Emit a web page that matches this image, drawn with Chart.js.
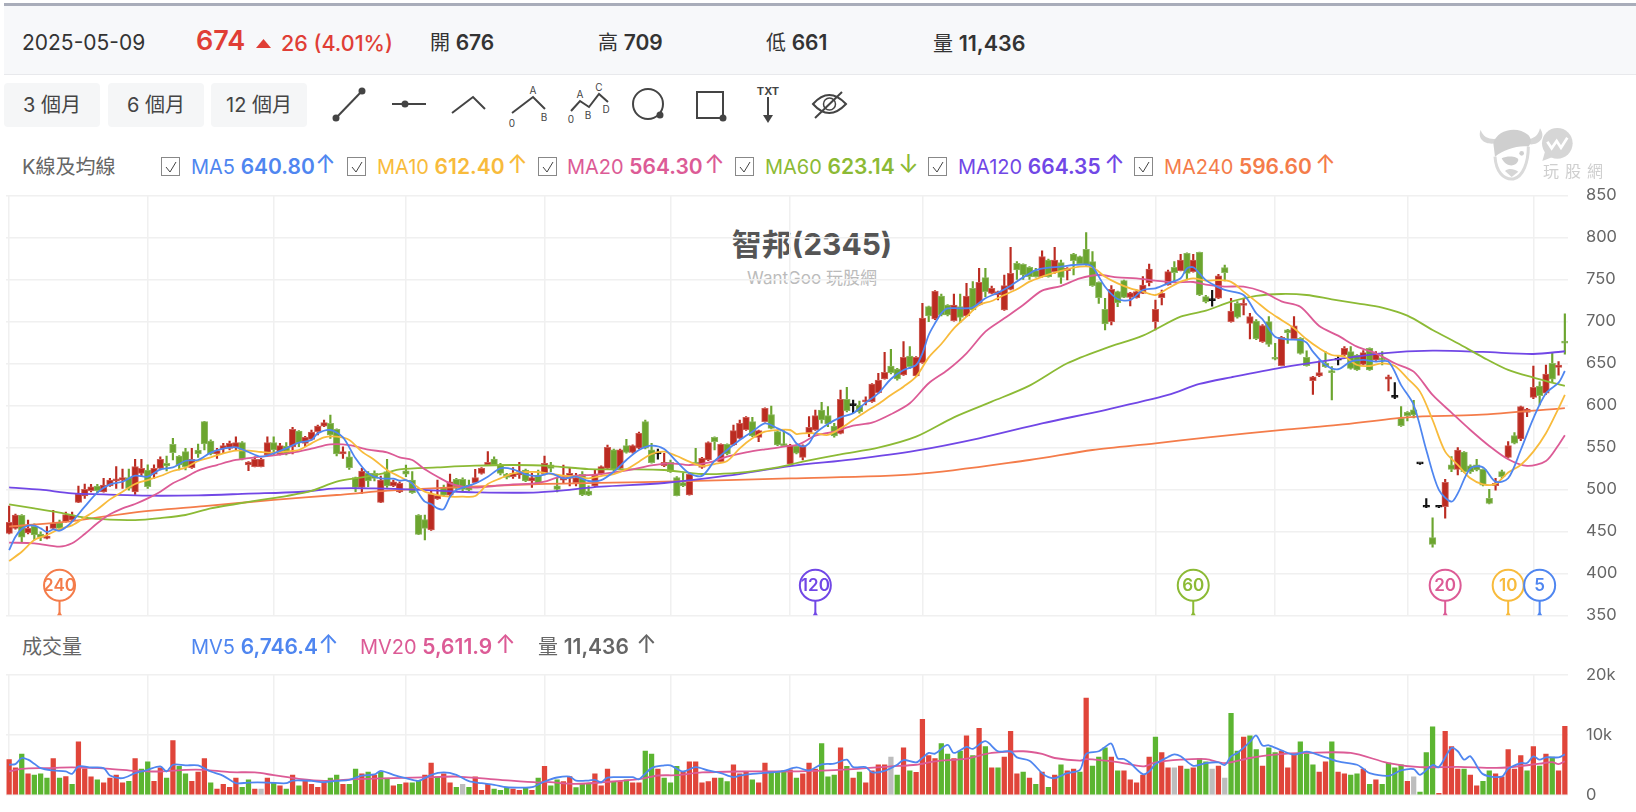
<!DOCTYPE html>
<html lang="zh-Hant">
<head>
<meta charset="utf-8">
<title>智邦(2345)</title>
<script src="https://cdn.jsdelivr.net/npm/chart.js@4/dist/chart.umd.js"></script>
<style>
  html, body { margin: 0; padding: 0; background: #fff; }
  body { width: 1636px; height: 812px; position: relative; overflow: hidden;
         font-family: Inter, "Noto Sans CJK TC", sans-serif; color: #333; }
  canvas { position: absolute; left: 0; }
  #priceChart { top: 180px; }
  #volumeChart { top: 660px; }
  .topline { position: absolute; left: 4px; right: 0; top: 3px; height: 3px; background: #a9adba; }
  .quote { position: absolute; left: 4px; right: 0; top: 6px; height: 68px; background: #f7f8fa; border-bottom: 1px solid #e8e9ec; }
  .t { position: absolute; line-height: 30px; height: 30px; white-space: nowrap; font-size: 20px; }
  .b { font-weight: 600; font-size: 21px; }
  .a { font-size: 25px; font-weight: 400; }
  .btn { position: absolute; top: 83px; height: 44px; line-height: 44px; text-align: center; background: #f5f6f7;
         border-radius: 4px; font-size: 20px; color: #444; }
  .box { position: absolute; top: 157px; width: 19px; height: 19px; border: 1px solid #888; box-sizing: border-box; background: #fff; }
  .box svg { position: absolute; left: 2px; top: 2px; }
  .blue { color: #4f86f0; } .yellow { color: #f8bb3c; } .pink { color: #dc5b96; }
  .green { color: #8cba35; } .purple { color: #7147e6; } .orange { color: #f47c4a; } .grey { color: #666; }
  .title { position: absolute; left: 612px; width: 400px; text-align: center; white-space: nowrap; }
  svg.tools, svg.logo { position: absolute; left: 0; top: 0; pointer-events: none; }
</style>
</head>
<body>

<div class="topline"></div>
<div class="quote"></div>
<span class="t" style="left:22px;top:28px;font-size:21px;color:#333">2025-05-09</span>
<span class="t b" style="left:196px;top:26px;font-size:27px;color:#e03e36">674</span>
<span class="t b" style="left:281px;top:28px;font-size:21.5px;color:#e03e36;font-weight:500">26 (4.01%)</span>
<span class="t" style="left:430px;top:28px">開 <span class="b">676</span></span>
<span class="t" style="left:598px;top:28px">高 <span class="b">709</span></span>
<span class="t" style="left:766px;top:28px">低 <span class="b">661</span></span>
<span class="t" style="left:933px;top:28px">量 <span class="b" style="font-size:21.5px">11,436</span></span>

<div class="btn" style="left:4px;width:96px">3 個月</div>
<div class="btn" style="left:108px;width:96px">6 個月</div>
<div class="btn" style="left:211px;width:96px">12 個月</div>

<span class="t grey" style="left:22px;top:152px">K線及均線</span>
<span class="box" style="left:161px"><svg width="14" height="14"><path d="M2 7l4 5 6-10" fill="none" stroke="#444"/></svg></span>
<span class="t blue" style="left:191px;top:152px">MA5 <span class="b">640.80</span></span><span class="t a blue" style="left:315px;top:149px">↑</span>
<span class="box" style="left:347px"><svg width="14" height="14"><path d="M2 7l4 5 6-10" fill="none" stroke="#444"/></svg></span>
<span class="t yellow" style="left:377px;top:152px">MA10 <span class="b">612.40</span></span><span class="t a yellow" style="left:507px;top:149px">↑</span>
<span class="box" style="left:538px"><svg width="14" height="14"><path d="M2 7l4 5 6-10" fill="none" stroke="#444"/></svg></span>
<span class="t pink" style="left:567px;top:152px">MA20 <span class="b">564.30</span></span><span class="t a pink" style="left:704px;top:149px">↑</span>
<span class="box" style="left:735px"><svg width="14" height="14"><path d="M2 7l4 5 6-10" fill="none" stroke="#444"/></svg></span>
<span class="t green" style="left:765px;top:152px">MA60 <span class="b">623.14</span></span><span class="t a green" style="left:898px;top:149px">↓</span>
<span class="box" style="left:928px"><svg width="14" height="14"><path d="M2 7l4 5 6-10" fill="none" stroke="#444"/></svg></span>
<span class="t purple" style="left:958px;top:152px">MA120 <span class="b">664.35</span></span><span class="t a purple" style="left:1104px;top:149px">↑</span>
<span class="box" style="left:1134px"><svg width="14" height="14"><path d="M2 7l4 5 6-10" fill="none" stroke="#444"/></svg></span>
<span class="t orange" style="left:1164px;top:152px">MA240 <span class="b">596.60</span></span><span class="t a orange" style="left:1315px;top:149px">↑</span>

<div class="title" style="top:226px;font-size:30px;font-weight:700;color:#555;line-height:36px">智邦(2345)</div>
<div class="title" style="top:267px;font-size:17px;color:#bbb;line-height:22px">WantGoo 玩股網</div>

<canvas id="priceChart" width="1636" height="450"></canvas>

<span class="t grey" style="left:22px;top:632px">成交量</span>
<span class="t blue" style="left:191px;top:632px">MV5 <span class="b">6,746.4</span></span><span class="t a blue" style="left:318px;top:629px">↑</span>
<span class="t pink" style="left:360px;top:632px">MV20 <span class="b">5,611.9</span></span><span class="t a pink" style="left:495px;top:629px">↑</span>
<span class="t grey" style="left:538px;top:632px">量 <span class="b">11,436</span></span><span class="t a grey" style="left:636px;top:629px">↑</span>

<canvas id="volumeChart" width="1636" height="152"></canvas>

<!-- drawing tool bar and the up triangle of the quote strip -->
<svg class="tools" width="1636" height="140" fill="none" stroke="#444" stroke-width="2">
  <path d="M256 48h15l-7.5-9z" fill="#e03e36" stroke="none"/>
  <path d="M336 118L362 91"/><circle cx="336" cy="118" r="2.5" fill="#444"/><circle cx="362" cy="91" r="2.5" fill="#444"/>
  <path d="M392 104H426"/><circle cx="405" cy="104" r="2.5" fill="#444"/>
  <path d="M452 113L473 97 485 109"/>
  <path d="M512 113L533 97 545 109"/>
  <path d="M571 111L580 101 589 107 599 94 608 102"/>
  <circle cx="648" cy="104" r="15"/><circle cx="660" cy="115" r="2.5" fill="#444"/>
  <path d="M697 92H723V118H697Z"/><circle cx="723" cy="118" r="2.5" fill="#444"/>
  <path d="M768 97V117"/><path d="M763 115H773L768 123Z" fill="#444" stroke="none"/>
  <path d="M813 104Q829 86 846 104Q829 122 813 104Z"/><circle cx="829.5" cy="104" r="6" stroke-width="1.5"/><path d="M815 118L842 92"/>
  <g fill="#444" stroke="none" font-size="10" font-family="Inter, sans-serif" text-anchor="middle">
    <text x="533" y="94">A</text><text x="512" y="127">0</text><text x="544" y="121">B</text>
    <text x="580" y="98">A</text><text x="599" y="91">C</text><text x="571" y="123">0</text><text x="588" y="119">B</text><text x="606" y="113">D</text>
    <text x="768" y="95" font-weight="700" font-size="11">TXT</text>
  </g>
</svg>

<!-- site watermark: bull head, speech bubble and the site name -->
<svg class="logo" width="1636" height="190">
  <g transform="translate(1460 115) scale(.3333)" fill="#d6d6d6">
    <path d="M62 45C50 75 80 90 105 85L115 70C95 75 70 70 62 45Z"/>
    <path d="M240 40C260 70 235 90 210 88L195 72C215 75 235 65 240 40Z"/>
    <path d="M100 85C110 45 170 30 205 60C215 72 215 85 205 95C175 90 130 105 105 125Z" fill="#cfcfcf"/>
    <path d="M105 125C108 170 130 195 160 192C190 185 205 140 205 95" fill="none" stroke="#dadada" stroke-width="9"/>
    <path d="M125 130C145 120 175 125 175 135C170 155 140 160 125 130Z" fill="#cfcfcf"/>
    <path d="M135 168L155 186L175 170C160 160 145 160 135 168Z"/>
    <circle cx="185" cy="115" r="7" fill="#cfcfcf"/>
    <circle cx="292" cy="85" r="46"/>
    <path d="M255 110L247 138L280 125Z"/>
    <path d="M262 80L275 100L290 78L303 98L322 68" fill="none" stroke="#fff" stroke-width="8"/>
  </g>
  <text x="1543" y="177" font-size="16" letter-spacing="6" fill="#cfcfcf" font-family="'Noto Sans CJK TC', sans-serif">玩股網</text>
</svg>

<script>
// daily candles, oldest first
const opens = [
  447.6,453.5,469,448,456,446.8,441.6,453.5,460,461.5,
  463.5,484.5,492,498.4,503.9,497,504,510,511,514,
  497,519,523,518,525,530.9,553.5,539.6,544.8,525.7,
  546.8,580.5,557.5,542,548,548.8,550,555.5,529,527,
  527,540.8,555.5,542,551.5,550.7,569.4,554.7,559.5,568.6,
  575.3,578.5,571.4,542,538.8,514,502.3,519,519,484.5,
  521,504,497,522,511,469.4,464,451.5,488.4,502.3,
  493,511.9,512,505,508,519,529,536,529,518,
  515,517,523,510,517,518,529,504,511,513,
  508,517.8,498,504,518,525,547,525,552,544,
  549,580.5,547,542,528,532,514,508,493.2,532,
  526,535,562,533,553.5,552.7,560.7,571,580.5,561.9,
  580.5,589,568.6,554,530,551.5,
  538,566.6,570.6,594.4,587.7,575.4,566.6,607.1,599.6,600.4,
  604,604.3,615,631.3,646.8,643.2,636.1,658.7,634.9,650.8,
  717.4,702.7,730.1,719.4,700.8,717.4,706.3,739.3,719.4,751.9,
  733.3,731.3,713.5,738.1,769,767.8,764.2,760.3,753.1,773,
  759.1,769.8,760.3,780.1,777,785.7,771,746.4,714.3,699.6,
  735.3,748.4,728.5,728.1,733.3,746,699.6,728.1,743.2,764.2,
  760.3,780.9,759.1,782.1,
  729.4,724.6,727.4,764,699.6,721.4,719,697.6,700.4,675.8,
  699.6,656.7,647.2,689.7,679.4,679.8,657,629.4,634.9,650,
  641.3,653.6,660,663.9,659.9,648.8,667.9,654,656,631,
  609.5,584.5,591.7,594.5,530.2,478.6,442.5,478.6,479.4,529,
  523.8,544.4,528,529,523.8,489.3,504.4,521,538,563.9,
  560,591.6,609.5,623,614.3,650,645,676
];
const closes = [
  460.7,469.4,443,453.5,445.6,442.8,444.4,459.5,453.5,470,
  469.4,494.4,500,503,498.4,505,511,512.6,514,501,
  527,525,503,525,535.6,527.7,543.6,529,526.9,535.6,
  542,553.9,542,546,552,554.7,555.5,536,532.5,535.6,
  535.6,555.5,546.8,552,542,571.4,555.5,561.9,568.2,575.3,
  579.3,564.6,542,545,525.7,502.3,521.8,510,513,511,
  504,509,507,518,496,446.4,453.5,494,492.4,493,
  509,501,500,499,514,525,532,529,519,514,
  519,521,510,514,507,531,525,500,514,519,
  514,493.2,493,517,527,550,523,547,544,552,
  566.6,549,531.7,542,532,521,492.4,504,517.8,530,
  537,555.5,556.7,553.5,542,569.8,578.5,585.7,563.4,569.8,
  596.4,572.6,552.7,552,552.7,543,
  552,573.8,587.7,582.5,577.8,563.5,607.1,593.6,599.6,592.4,
  605.2,625.4,630.1,639.3,638.9,631.3,657.1,646,657.1,703.9,
  706.3,735.7,707.5,707.5,719.4,704.7,730.1,713.5,746.4,735.3,
  739.3,735.3,742.4,757.1,761.1,755.1,753.1,753.1,777,753.1,
  773,752.3,763,772.2,768.2,767,742.4,728.1,696.8,738.1,
  722.2,728.5,734,735.3,743.2,762.3,714.3,733.3,759.1,757.9,
  773,757.1,773,731.3,
  723.4,724.6,754,758,712.3,704.8,721.4,705.6,679.4,694.8,
  672.6,654.8,681,686.5,694.5,661.9,647.2,634,639,646,
  638.9,653.6,667.9,644,642,662.7,642,661.9,654,634,
  609.5,575.8,587.7,588.5,530.2,478.6,434.5,478.6,508.3,523.8,
  546.8,521,521,523,505,483.3,507,515,552,554.8,
  598.4,595.6,621.4,611.5,637.3,631,648,674
];
const highs = [
  480,470.5,470,463.4,459,449.5,455.5,475,463.5,473,
  473,503.9,506.3,506,506,513,513,527,524,524,
  535.6,535.6,529,529,538.8,539.6,560.7,540,548.8,548.8,
  553.9,581,559,548.8,554.7,557.5,562.6,556.7,533,538.8,
  537,562.6,562.6,554.7,555.5,573.8,570,563,570.6,576.5,
  582.5,588.4,572,550.7,544.8,514.5,524.9,521,522,515.8,
  535.6,511,509,528.9,521,470,469.4,498,511,505,
  518,513,513.8,511,523.7,526,545,538.8,530.9,519,
  526,532,524,519,523,539.6,532,513,528.9,525,
  519,521,504,523,528,552.7,548,548,559.5,553,
  568,582.5,554.7,548,542.8,534.9,515,519,519,548.8,
  538,556.5,562.6,554,554,576.5,582.5,586.5,585.7,570.5,
  596.9,599,569.5,570,553.5,553,
  553,586.5,594.4,603.5,598.4,578.6,618.2,621.4,606.3,605.1,
  610,626,638,663,666.6,644,675.8,669.8,658,721.4,
  718,736.5,732.5,720,732.5,732.5,745.2,747.2,763,763,
  742,736,755.1,788,771,768.5,765,763,784,774,
  788,773,764,781,777.5,805.5,783,747,727.4,742.4,
  736,749,734.5,737.3,753.1,768.2,725.4,737.3,761,771,
  779.7,781.5,779.7,782.5,
  731,737,756,767,727.4,723.4,727,709.5,702,696,
  705.6,673.8,682,690.5,705.6,680.6,664.7,634.5,652.8,664,
  646,658,670,670,660.5,665,668.5,664,664,636,
  627,598.4,592.5,606,530.8,489,466,479.2,512,539,
  549.6,545,529,535.7,524.5,500,513,523,556.7,567.5,
  599,596.5,646.8,628,648,662.7,652,709
];
const lows = [
  447,452.5,437.6,446.8,439.6,438.8,441,453,451.5,461,
  461.5,484,489.2,497,496,496.5,503.5,501,501,499,
  494,515,501,513,523,522,534.9,523,523,525,
  538,546.8,540.8,536.9,543.6,546.8,546.8,534.9,522.2,526.5,
  526.5,539.6,540.8,540.8,541,542,550.7,550.7,558.7,564.6,
  574.6,560.7,539.6,536.9,523.8,497.2,495,503,510,484,
  502.3,503,496,515,495,446,439.6,451,488,492,
  492,500,497,498,507,518,528.5,528,517,512.3,
  513,513,509,502.3,506,517,521,497,507,504,
  504,492.5,492.5,503,517,524,522,524,543,543,
  548,548,531,536,527,520,492,503,493,529,
  525,534,546.8,532,541,552,560,570,562.6,556.7,
  580,572,552,551,529,542,
  535,562.7,570,578.6,574.6,562,566,592,591.2,590.5,
  600.4,603.5,614,631,637.3,630,635.5,644,634,650,
  699.6,702,706.3,706.5,700.3,698.4,705.5,713,718.5,729.3,
  732.5,725.4,713,737.5,750,750,750,752.5,752.5,752.5,
  757,745.2,749.2,755.1,767.5,766.5,741.5,721.4,689.7,695.6,
  717.4,728,718.2,727.5,733,742,689.7,719.4,743,747.2,
  760,749.2,758.5,730.5,
  722,718,727,748,699,703.6,707.5,679,678,675,
  670,654,647,673.8,678.6,661,646.5,613,634,645,
  606.3,648,659,643,641.5,648,641.5,653.5,648,617,
  608,575,581.5,585,529.6,478,431,478,465.5,521,
  517,520,519,522,504,482.5,499,513,537,554,
  558,586.5,608,600.4,613,628,636,661
];

// traded volume, and the direction of each day against the previous close
const volumes = [
  5870,4530,6820,3520,3300,3520,2800,6040,2800,3070,
  1790,8830,4360,3020,2520,2010,2800,3300,2010,2290,
  6040,4300,5530,2290,4530,2800,9060,4750,3520,2290,
  3800,6040,2010,1000,1790,1290,2800,1290,2520,1000,
  1000,2800,2010,1510,1000,3300,1510,2290,1790,1290,
  2010,2800,3300,1790,1790,4300,3520,3800,3300,3800,
  2800,1510,1790,2010,2010,2290,3300,5310,3020,3520,
  2010,1290,1790,1290,3020,780,1790,1000,780,1290,
  1000,780,1290,780,2800,4750,1510,2520,2240,3070,
  1230,1960,1790,3520,1510,4300,2240,2240,2520,2010,
  2010,7320,6820,4300,2800,2010,4750,3800,5530,5530,
  2010,2240,2800,2800,2240,5030,3520,3750,2520,2010,
  5310,3750,3750,4020,4190,2800,3520,5310,4300,8550,
  3020,3300,7830,4750,2800,3800,2010,4020,5030,5030,
  6320,3300,7830,4020,3750,12580,6540,6040,8550,6820,
  6040,7320,9840,6540,11070,8050,4530,4530,6320,10570,
  3520,3800,2800,1790,3800,1290,3300,5030,4020,4300,
  3800,16100,4810,6320,7830,6320,4020,4020,2520,2010,
  3300,6320,9610,7040,4530,4530,4810,4300,4530,6040,
  5530,4300,4810,2800,13580,7320,9610,9840,7550,4810,
  7830,7040,7320,4530,6820,8830,6820,5030,3800,5530,
  8830,3800,3520,3300,3520,4300,1790,2520,1790,5310,
  4530,5030,2290,3020,500,7040,11350,280,10570,8050,
  4300,4300,3300,1510,2290,4020,3520,3020,7550,4300,
  6540,4020,8050,4810,6820,6320,4020,11436
];
const volumeMoves = [
  "rrgrgggrgr","grrrgrrrrg","rggrrgrggr","rrgrrrrggr","nrgrgrgrrr",
  "rggrggrgrg","grgrggrrgr","rgngrrrggg","rrgrgrggrr","gggrrrgrgr",
  "rggrgggrrr","rrrggrrrgr","rgggrgrrrg","ggrgrgrrrr","ngrgrrrrgg",
  "rgrgrgrgrr","rgrgrgrgrr","grgggrgrrr","rrgrrnrgrg","gnrnggrggr",
  "ggrrrgggrr","grrggrgrgg","ggrngggrrr","rgrrggrrrr","rgrgrgrr"
].join("");

// moving averages, read at the listed trading days
const ma5Days = [0,1,2,3,4,5,6,7,8,9,10,12,14,16,18,20,22,24,26,28,30,32,34,36,38,40,42,44,46,48,49,51,53,55,57,59,61,
  62,63,64,65,66,67,68,69,70,71,72,74,76,78,80,82,84,86,88,90,92,94,96,98,100,102,104,106,108,110,112,114,116,118,120,122,124,125,
  126,127,128,130,132,134,136,138,140,142,144,145,146,147,148,149,151,153,155,157,159,161,163,165,167,169,171,172,174,176,178,180,182,184,186,187,188,189,
  190,191,193,196,198,199,201,203,205,206,207,209,211,213,215,217,219,221,223,225,227,229,230,232,234,236,238,240,242,244,246,247];
const ma5 = [427.7,443.6,452.7,456.7,456.7,453.5,449.2,452.3,450.7,454.7,461.5,479.3,496,505.9,509,516.2,515,523.8,526.1,534,534.9,543.6,548.3,550,544.4,538.8,542.8,548.8,555.5,558.7,566.6,570.6,561.9,536.9,519,513,512.6,
  510.3,511,507,495.2,485.3,482.5,477.3,476.5,491.2,499.2,501.9,507,515,524.9,523.8,517.8,515.8,519,513,515,509.9,511,521,534.9,546.8,552,548,532.9,519,516,533.7,546.8,558.7,568.6,578.5,572.6,564.6,554.7,
  550.8,554.7,566.6,577.8,585.7,590.5,603.2,614.3,631.3,642,648,661.9,683.7,697.6,709.5,715.4,715.4,716.6,727.4,734.1,742.4,752.3,761,763.9,765,767,767.8,765,741.2,726.6,725.4,737.3,739.3,745.2,751.2,763,764.3,757,
  749,744.4,737.3,731.3,709.5,702.4,681.7,678.6,677.8,674.6,663.9,648,642.9,652,654,652,652,624,600.4,546.8,499.2,485.3,495.2,525,526.2,509.1,513.1,546.8,584.5,614.3,627,640.8];

const ma10Days = [0,2,4,6,8,10,12,14,16,18,20,22,24,26,28,30,32,34,36,38,40,42,44,46,48,50,52,54,56,58,60,62,
  64,66,68,70,72,74,76,78,80,82,84,86,88,90,92,94,96,98,100,102,104,106,108,110,112,114,116,118,120,122,124,125,
  126,128,130,132,134,136,138,140,142,144,146,148,150,152,154,156,158,160,162,164,166,168,170,172,174,176,178,180,182,184,186,188,
  190,192,194,196,198,200,202,204,206,208,210,212,214,216,218,220,222,224,226,228,230,232,234,236,238,240,242,244,246,247];
const ma10 = [414.6,425.7,439.6,445.6,452.7,457.1,466.6,476.1,488,497.2,506.3,511,515.8,521.8,525.8,533.7,538,542.8,546,546,544.4,543.6,545.2,546.8,554.7,561.9,562.6,558.7,544.8,534.9,523,515,
  507,497.2,493.2,491.2,491.2,492,506.3,513,519,520.6,520.6,518.2,516.2,515,513,515.8,518.2,523.8,532.9,542,544.8,539.6,532.9,527.7,530.1,533.7,548.8,560.7,568.6,570.6,570.6,565.8,
  566.6,566.6,564.7,572.6,582.5,592.4,601.6,612.3,622.2,634.1,657.1,673,691.6,705.5,719.4,724.2,731.3,738.1,747.2,753.1,757.9,761.9,765,764.3,753.1,745.2,739.3,735.3,731.3,739.3,747.2,751.2,
  748.4,749,747,735.3,723.4,711.5,701.6,691.7,678.6,667.9,659.9,657.9,648,646.8,650,646.8,632.1,616.3,582.5,544.8,529,513.1,506,506.4,519.9,529,544.8,566.7,596.4,612.4];

const ma20Days = [0,4,8,10,12,14,16,18,20,22,24,26,28,30,33,36,39,42,45,48,51,54,57,60,62,
  64,66,68,70,72,74,77,80,83,85,87,90,93,96,99,102,105,108,111,114,117,120,123,125,
  126,128,131,134,137,140,143,146,149,152,155,158,161,164,167,170,173,176,179,182,185,188,
  190,193,196,199,202,205,208,211,214,217,220,223,226,229,232,235,238,241,244,246,247];
const ma20 = [436.5,435.7,431.7,435.7,446.8,459.5,470.2,477.3,482.5,489.2,497.2,507.1,514.2,522.2,528.9,534.9,538,540.4,543.6,548.4,553.5,552.7,547.2,544,538,
  534.9,523.8,515,507.1,503.1,501.9,503.9,505.9,506.7,509.1,513.8,516.2,517.4,520.2,523.8,528.5,530.9,528.9,531.7,538.8,544,547.6,550.7,552.7,
  555.5,563.9,568.6,575.8,579.3,589.3,602.4,626.2,642,661.9,687.7,703.5,719.4,736.5,742,751.2,755.1,752.3,751.2,748.4,746.4,746.8,
  743.6,741.3,741.3,735.3,723.8,717.4,694.4,682.9,669.8,661.9,650,640.1,612.3,591.3,570.6,551.6,535.7,527.8,533.7,552.8,564.3];

const ma60Days = [0,4,8,12,16,20,24,28,32,36,40,44,48,52,56,60,62,68,74,80,86,92,98,104,110,116,122,
  126,132,138,144,150,156,162,168,174,180,186,190,194,198,202,206,210,214,218,222,226,230,234,238,242,247];
const ma60 = [482.1,477.3,472.2,466.2,463.8,463.4,465.8,469.4,477.3,482.5,487.3,492,498,509.1,514.2,519.8,523.8,526.1,528.1,528.9,527.7,524.1,523.8,523,518.2,519.8,526.1,
  532.9,541.6,549.6,562.7,585.7,604.3,623.4,650,667.8,682.9,705.5,712.7,723.4,730.2,732.5,731.3,726.2,721.4,716.3,706.7,689.7,673.8,657.1,642.1,633,623.14];

const ma120Days = [0,5,10,15,22,30,38,46,52,58,63,68,74,84,94,104,114,124,134,144,154,164,174,184,189,194,202,210,218,226,234,242,247];
const ma120 = [502.3,499.5,495.2,494,492.4,492.8,494.8,496.8,501.1,501.1,500,498.4,496.4,496.4,503.1,507.5,516.2,527.7,535.7,546,560.7,578.5,594.4,612.3,625.4,633.3,644.8,654,661.9,665,663.5,661.1,664.35];

const ma240Days = [0,10,20,31,42,52,62,83,104,124,144,162,172,182,190,203,211,222,233,247];
const ma240 = [455.5,462.2,472.6,480,487.3,493.2,499.2,505.9,509.1,513,518,534.9,546.8,554.7,561.5,571.4,576.6,585.7,588.5,596.6];

const mv5Days = [0,1,2,3,4,5,7,9,10,11,13,15,16,18,20,22,24,25,26,28,30,32,34,36,38,41,44,45,48,50,52,54,56,58,59,61,63,65,67,69,71,73,75,77,79,81,83,85,87,
  89,90,92,93,94,95,97,99,100,102,104,105,107,109,111,113,115,116,118,121,123,125,127,129,131,133,134,136,137,139,141,142,144,145,146,147,149,150,152,153,155,157,159,160,162,164,165,166,168,170,171,173,
  174,175,176,177,178,180,181,182,184,185,186,188,190,192,193,194,195,197,198,199,200,202,204,206,209,211,214,215,216,219,221,223,224,226,227,229,230,231,232,234,237,238,240,241,242,243,244,246,247];
const mv5 = [5030,5140,6150,5870,5200,4470,4080,3910,3520,4750,4580,4470,3240,2800,3630,4190,4750,3910,5030,4920,4920,3910,3190,1960,2070,2070,1960,2400,2350,2120,2350,2520,3240,3410,4020,3350,2800,2350,3350,3750,3350,2290,1960,1680,1290,1230,1290,2240,2910,
  3070,2400,2400,2520,2120,2900,2960,2960,2630,4470,4920,4920,3910,4640,4080,3630,2960,3240,3520,3750,4020,4580,4080,5090,5200,5870,4640,4640,3750,4020,5030,5810,5420,6150,6990,6880,8330,6990,7990,7660,8940,7270,7270,6260,5700,3630,2960,2800,3630,4190,6820,7270,
  7990,8550,6090,5980,5310,3470,3910,5140,6320,6760,6430,4860,5310,5420,4980,6430,6990,8830,9890,8220,8270,7430,6710,7210,6260,5590,5030,4360,3630,3190,4080,4300,3350,4980,4640,7830,7270,5870,6430,3470,3070,4360,5310,5310,6430,5870,6260,6260,6746.4];

const mv20Days = [0,2,6,10,16,20,24,28,31,35,39,42,46,50,55,61,67,71,78,84,
  85,90,95,100,103,106,110,116,122,128,134,140,144,147,152,156,161,164,166,170,
  171,176,180,182,186,190,193,197,201,206,213,219,224,230,237,243,245,246,247];
const mv20 = [3910,4360,4470,4580,4360,4020,3910,4190,4190,3800,3750,3300,2680,2350,2630,2800,2960,3070,2520,2070,
  2180,1840,2180,2630,3240,3300,3750,3910,3910,4020,4300,4750,5030,5590,6040,6990,7270,6820,6150,5700,
  5980,5480,4750,5420,5870,5980,5310,6150,6710,6990,6990,5310,4640,4690,4530,5200,5480,5140,5611.9];

// first trading day of each month, where the vertical grid lines sit
const monthStarts = [0,22,42,63,85,105,124,145,182,201,222,242];
const priceTicks = { min: 350, max: 850, step: 50 };
const volumeTicks = { min: 0, max: 20000, step: 10000 };
// averaging periods marked along the bottom of the price pane
const badgePeriods = [240,120,60,20,10,5];
const badgeColors = ["#f47c4a","#7147e6","#8cba35","#dc5b96","#f8bb3c","#4f86f0"];

const days = opens.map((_, i) => String(i));

// spread readings over all trading days so the line can span the gaps
function onDays(dayList, values) {
  const out = new Array(days.length).fill(null);
  dayList.forEach((d, i) => { out[d] = values[i]; });
  return out;
}

function lineSet(label, dayList, values, color, width) {
  return {
    type: "line", label: label, data: onDays(dayList, values), borderColor: color, borderWidth: width,
    pointRadius: 0, spanGaps: true, tension: 0.3, order: 0, clip: false
  };
}

const gridColor = "#f0f0f0";
const tickColor = "#666";
const tickFont = { family: "Inter", size: 16.5 };

function xAxis() {
  return {
    offset: true,
    grid: { offset: false, color: gridColor, lineWidth: 1.5, drawTicks: false },
    border: { display: false },
    ticks: { display: false, autoSkip: false },
    afterBuildTicks: (s) => { s.ticks = monthStarts.map((d) => ({ value: d })); }
  };
}

function yAxis(range, fmt) {
  return {
    position: "right", min: range.min, max: range.max,
    grid: { color: gridColor, lineWidth: 1.5, drawTicks: false },
    border: { display: false },
    ticks: { stepSize: range.step, color: tickColor, font: tickFont, padding: 18, callback: fmt },
    // tick padding would otherwise also push the plot in from top and bottom
    afterFit: (s) => { s.width = 68; s.paddingTop = 0; s.paddingBottom = 0; }
  };
}

function candleColor(i, up, down, flat) {
  if (closes[i] > opens[i]) return up;
  if (closes[i] < opens[i]) return down;
  return flat;
}

// round period markers sitting on a stem at the bottom of the price pane
const badgePlugin = {
  id: "periodBadges",
  afterDatasetsDraw(chart) {
    const ctx = chart.ctx, area = chart.chartArea, xs = chart.scales.x;
    const cy = area.bottom - 30;
    badgePeriods.forEach((period, k) => {
      const x = xs.getPixelForValue(days.length - period), color = badgeColors[k];
      ctx.save();
      ctx.strokeStyle = color;
      ctx.lineWidth = 2;
      ctx.beginPath();
      ctx.moveTo(x, cy + 15);
      ctx.lineTo(x, area.bottom - 2);
      ctx.stroke();
      ctx.beginPath();
      ctx.moveTo(x - 2.5, area.bottom);
      ctx.lineTo(x, area.bottom - 4);
      ctx.lineTo(x + 2.5, area.bottom);
      ctx.closePath();
      ctx.fillStyle = color;
      ctx.fill();
      ctx.beginPath();
      ctx.arc(x, cy, 15.5, 0, Math.PI * 2);
      ctx.fillStyle = "#fff";
      ctx.fill();
      ctx.stroke();
      ctx.fillStyle = color;
      ctx.font = "600 17px Inter";
      ctx.textAlign = "center";
      ctx.textBaseline = "middle";
      ctx.fillText(String(period), x, cy + 0.5);
      ctx.restore();
    });
  }
};

// price pane
new Chart(document.getElementById("priceChart"), {
  type: "bar",
  data: {
    labels: days,
    datasets: [
      lineSet("MA5", ma5Days, ma5, "#4f86f0", 1.8),
      lineSet("MA10", ma10Days, ma10, "#f8bb3c", 1.8),
      lineSet("MA20", ma20Days, ma20, "#dc5b96", 1.8),
      lineSet("MA60", ma60Days, ma60, "#8cba35", 1.8),
      lineSet("MA120", ma120Days, ma120, "#7147e6", 1.8),
      lineSet("MA240", ma240Days, ma240, "#f47c4a", 1.8),
      {
        label: "body", order: 1, grouped: false, barThickness: 6.6, minBarLength: 2,
        data: opens.map((o, i) => [o, closes[i]]),
        backgroundColor: opens.map((_, i) => candleColor(i, "#bb2b21", "#6ca52f", "#111")),
        borderColor: opens.map((_, i) => candleColor(i, "#cf5f57", "#8db860", "#111")),
        borderWidth: 1, borderSkipped: false
      },
      {
        label: "wick", order: 2, grouped: false, barThickness: 1.5,
        data: lows.map((l, i) => [l, highs[i]]),
        backgroundColor: opens.map((_, i) => candleColor(i, "#bb2b21", "#6ca52f", "#111"))
      }
    ]
  },
  options: {
    responsive: false, animation: false, devicePixelRatio: 1,
    layout: { padding: { left: 6, right: 0, top: 15.3, bottom: 14.7 } },
    plugins: { legend: { display: false }, tooltip: { enabled: false } },
    scales: { x: xAxis(), y: yAxis(priceTicks) }
  },
  plugins: [badgePlugin]
});

// volume pane
new Chart(document.getElementById("volumeChart"), {
  type: "bar",
  data: {
    labels: days,
    datasets: [
      lineSet("MV5", mv5Days, mv5, "#4f86f0", 1.8),
      lineSet("MV20", mv20Days, mv20, "#dc5b96", 1.8),
      {
        label: "volume", order: 1, barThickness: 4.6,
        data: volumes,
        backgroundColor: volumes.map((_, i) => ({ r: "#e0453a", g: "#5cb531", n: "#bdbdbd" }[volumeMoves[i]]))
      }
    ]
  },
  options: {
    responsive: false, animation: false, devicePixelRatio: 1,
    layout: { padding: { left: 6, right: 0, top: 14.7, bottom: 17 } },
    plugins: { legend: { display: false }, tooltip: { enabled: false } },
    scales: {
      x: xAxis(),
      y: yAxis(volumeTicks, (v) => (v === 0 ? "0" : v / 1000 + "k"))
    }
  }
});
</script>
</body>
</html>
